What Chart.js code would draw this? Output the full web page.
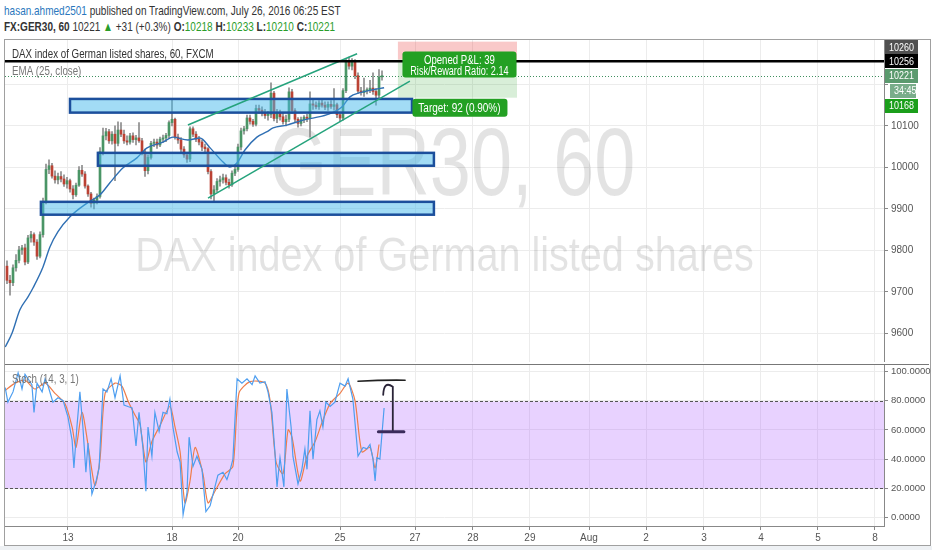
<!DOCTYPE html>
<html>
<head>
<meta charset="utf-8">
<script src="https://cdn.jsdelivr.net/npm/chart.js@4.4.0/dist/chart.umd.min.js"></script>
<style>
  body { margin: 0; background: #fff; width: 932px; height: 550px; overflow: hidden; position: relative;
         font-family: "Liberation Sans", Arial, sans-serif; }
  .hdr { position: absolute; left: 4px; white-space: nowrap; font-size: 13px; color: #333;
         transform: scaleX(0.77); transform-origin: 0 0; line-height: 15px; }
  #hdr1 { top: 3px; }
  #hdr2 { top: 19px; }
  .g { color: #2a9d2a; }
  .u { color: #2a77bd; }
  #frame { position: absolute; left: 4px; top: 39px; width: 925px; height: 505px; border: 1px solid #a0a0a0; }
  #mainC { position: absolute; left: 0; top: 40px; }
  #stochC { position: absolute; left: 0; top: 364px; }
  #foot { position: absolute; left: 0; top: 546px; width: 932px; height: 4px; background: #eef1f4; }
</style>
</head>
<body>
<div id="hdr1" class="hdr"><span class="u">hasan.ahmed2501</span> published on TradingView.com, July 26, 2016 06:25 EST</div>
<div id="hdr2" class="hdr"><b>FX:GER30, 60</b> 10221 <span class="g">▲</span> +31 (+0.3%) <b>O:</b><span class="g">10218</span> <b>H:</b><span class="g">10233</span> <b>L:</b><span class="g">10210</span> <b>C:</b><span class="g">10221</span></div>
<div id="frame"></div>
<canvas id="mainC" width="932" height="322"></canvas>
<canvas id="stochC" width="932" height="186"></canvas>
<div id="foot"></div>
<script>
// hourly candles, one row per bar: [open, high, low, close]
const candles = [
  [9762, 9775, 9720, 9728], [9728, 9740, 9692, 9722], [9722, 9765, 9715, 9758], [9758, 9790, 9750, 9776],
  [9776, 9810, 9770, 9801], [9801, 9812, 9790, 9806], [9806, 9815, 9765, 9772], [9772, 9836, 9768, 9830],
  [9830, 9846, 9820, 9838], [9838, 9842, 9812, 9820], [9820, 9826, 9778, 9786], [9786, 9845, 9782, 9838],
  [9838, 9926, 9832, 9918], [9918, 10008, 9912, 9995], [9995, 10018, 9985, 10004], [10004, 10010, 9974, 9979],
  [9979, 9992, 9962, 9970], [9970, 9986, 9960, 9978], [9978, 9990, 9965, 9972], [9972, 9982, 9954, 9960],
  [9960, 9976, 9950, 9968], [9968, 9972, 9940, 9948], [9948, 9956, 9924, 9934], [9934, 9962, 9930, 9957],
  [9957, 10002, 9954, 9993], [9993, 10005, 9978, 9984], [9984, 9990, 9950, 9955], [9955, 9958, 9930, 9936],
  [9936, 9940, 9904, 9913], [9913, 9926, 9900, 9921], [9921, 9936, 9912, 9930], [9930, 10048, 9926, 10038],
  [10038, 10095, 10030, 10076], [10076, 10094, 10066, 10086], [10086, 10092, 10058, 10064], [10064, 10086, 10056, 10080],
  [10080, 10100, 9968, 10058], [10058, 10110, 10052, 10090], [10090, 10108, 10074, 10080], [10080, 10090, 10058, 10064],
  [10064, 10076, 10054, 10061], [10061, 10082, 10056, 10076], [10076, 10083, 10060, 10067], [10067, 10077, 10054, 10071],
  [10071, 10108, 10060, 10064], [10064, 10070, 10030, 10037], [10037, 10044, 9978, 9992], [9992, 10030, 9984, 10024],
  [10024, 10063, 10020, 10058], [10058, 10068, 10050, 10061], [10061, 10068, 10046, 10054], [10054, 10073, 10050, 10068],
  [10068, 10078, 10060, 10071], [10071, 10082, 10062, 10077], [10077, 10112, 10070, 10108], [10108, 10163, 10100, 10116],
  [10116, 10119, 10068, 10073], [10073, 10080, 10058, 10066], [10066, 10072, 10038, 10044], [10044, 10050, 10024, 10030],
  [10030, 10036, 10012, 10020], [10020, 10098, 10014, 10093], [10093, 10098, 10074, 10080], [10080, 10086, 10062, 10068],
  [10068, 10075, 10054, 10061], [10061, 10066, 10040, 10049], [10049, 10056, 10038, 10045], [10045, 10048, 9984, 9990],
  [9990, 9995, 9924, 9936], [9936, 9956, 9918, 9946], [9946, 9973, 9940, 9966], [9966, 9979, 9955, 9970],
  [9970, 9984, 9962, 9975], [9975, 9982, 9958, 9964], [9964, 9972, 9950, 9958], [9958, 9992, 9954, 9986],
  [9986, 10001, 9980, 9995], [9995, 10056, 9990, 10049], [10049, 10095, 10042, 10088], [10088, 10099, 10080, 10093],
  [10093, 10126, 10088, 10119], [10119, 10126, 10104, 10111], [10111, 10116, 10099, 10104], [10104, 10150, 10100, 10142],
  [10142, 10150, 10130, 10138], [10138, 10146, 10124, 10131], [10131, 10140, 10118, 10125], [10125, 10135, 10114, 10128],
  [10128, 10204, 10120, 10179], [10179, 10183, 10112, 10118], [10118, 10140, 10108, 10131], [10131, 10138, 10114, 10122],
  [10122, 10131, 10104, 10110], [10110, 10126, 10100, 10116], [10116, 10192, 10110, 10182], [10182, 10188, 10130, 10137],
  [10137, 10142, 10110, 10116], [10116, 10120, 10097, 10106], [10106, 10121, 10100, 10115], [10115, 10125, 10108, 10121],
  [10121, 10128, 10110, 10118], [10118, 10182, 10073, 10153], [10153, 10162, 10140, 10150], [10150, 10158, 10141, 10146],
  [10146, 10161, 10140, 10155], [10155, 10163, 10145, 10150], [10150, 10158, 10139, 10145], [10145, 10158, 10137, 10152],
  [10152, 10161, 10142, 10147], [10147, 10190, 10138, 10151], [10151, 10155, 10120, 10127], [10127, 10134, 10110, 10119],
  [10119, 10190, 10114, 10185], [10185, 10262, 10180, 10255], [10255, 10266, 10237, 10244], [10244, 10262, 10235, 10255],
  [10255, 10260, 10214, 10221], [10221, 10228, 10178, 10184], [10184, 10193, 10174, 10180], [10180, 10215, 10171, 10185],
  [10185, 10192, 10177, 10187], [10187, 10210, 10180, 10191], [10191, 10228, 10176, 10183], [10183, 10190, 10150, 10174],
  [10174, 10236, 10168, 10218], [10218, 10233, 10210, 10221]
];

// EMA(25), at bar positions
const emaX = [-0.6, 1.7, 4.3, 7, 8.7, 12, 14.3, 17, 21, 26.7, 31, 34.3, 38.7, 43.3, 46.7, 52, 55.3, 60.3, 64.3,
              67.7, 72, 74.3, 76.7, 79.3, 83.3, 86.7, 88.7, 93.3, 98.7, 106.7, 111.7, 114.3, 117.7, 122, 125.7];
const emaY = [9567, 9601, 9657, 9688, 9710, 9760, 9808, 9845, 9881, 9914, 9934, 9963, 9999, 10023, 10047, 10061, 10073, 10066, 10071,
              10047, 10013, 10001, 10011, 10042, 10073, 10086, 10095, 10102, 10114, 10127, 10146, 10170, 10180, 10187, 10192];

// Stoch %K and %D
const kX = [-0.6, 0.3, 2, 3.7, 5, 6, 7, 8.3, 9, 10, 11.7, 12.7, 13.7, 15.3, 17, 18.7, 20.3, 21.7, 22.3, 23.3, 24.3, 25.3,
            26.3, 27, 28.3, 29.7, 30.7, 32, 33.3, 34.7, 36, 37.7, 39, 40.3, 41.7, 43, 44, 45.3, 46.3, 47, 48.3, 49.3,
            50.7, 52, 53.3, 54.3, 55.3, 56.7, 57.7, 58.7, 60, 60.7, 62, 63.3, 65, 66.3, 67.7, 69.3, 70.3, 72, 73.3,
            74.3, 75.3, 76.7, 78.3, 80, 81.7, 82.7, 84.3, 86, 87, 88.3, 89.3, 90, 91, 92.3, 93.3, 94.7, 95.3, 97,
            98.3, 99.3, 100, 101, 102, 103.3, 104.3, 105.3, 106.3, 107.7, 109.3, 111, 112.7, 113.7, 115.3, 117,
            118.7, 120, 121, 122, 122.7, 123.3, 124.3, 125.7];
const kY = [89, 79, 86, 99, 88, 98, 95, 91, 72, 92, 86, 95, 90, 79, 82, 80, 69, 53, 34, 62, 86, 62,
            31, 51, 16, 25, 34, 88, 86, 95, 82, 97, 77, 76, 75, 49, 72, 48, 18, 62, 42, 72,
            59, 72, 71, 81, 62, 45, 38, 2, 17, 55, 35, 42, 33, 4, 8, 21, 29, 31, 26,
            32, 40, 95, 92, 95, 91, 97, 92, 93, 86, 72, 45, 21, 41, 21, 88, 62, 42, 23,
            33, 47, 33, 73, 40, 67, 73, 62, 79, 76, 79, 92, 90, 95, 81, 42,
            48, 47, 50, 40, 25, 41, 40, 75];
const dX = [-0.6, 2.7, 6, 9.3, 12.7, 16, 19.3, 21.7, 23, 25, 27, 29.3, 31, 32.7, 36, 38.3, 40.3, 42.7, 44.3, 46.3,
            48.3, 51, 54.3, 56, 57.7, 59.3, 61, 62.7, 65.3, 67, 69.3, 72.7, 75.3, 77.3, 81, 86, 87.7, 89.7, 92,
            93.7, 95, 97.7, 100, 102.7, 105, 107.7, 111, 113.7, 116, 118.3, 121, 122.7, 124];
const dY = [87, 92, 94, 88, 92, 85, 78, 62, 48, 72, 50, 22, 40, 85, 92, 90, 80, 70, 64, 38,
            52, 63, 76, 62, 45, 10, 25, 48, 30, 10, 18, 30, 35, 85, 93, 92, 80, 38, 30,
            60, 55, 25, 42, 52, 65, 78, 85, 92, 80, 45, 48, 34, 50];

// time axis (bar positions of the day labels)
const dayTicks = [20.33, 55, 77, 111, 136, 155.3, 174.3, 194, 213, 232.3, 251.3, 270.3, 289.3];
const dayLabels = ['13', '18', '20', '25', '27', '28', '29', 'Aug', '2', '3', '4', '5', '8'];
const priceTicks = [9600, 9700, 9800, 9900, 10000, 10100, 10200];
const stochTicks = [0, 20, 40, 60, 80, 100];

// drawings: [fromBar, toBar, low, high] and [bar, price, bar, price]
const zones = [[21, 135, 10132, 10165], [30.3, 142.3, 10004, 10035], [11.3, 142.3, 9886, 9917]];
const channel = [[60.3, 10102, 116.7, 10274], [67, 9926, 134.3, 10208]];
const level = 10256;
const lastPrice = 10221;
const position = { from: 130.3, to: 170, entry: 10260, stop: 10303, target: 10168 };

const X_MIN = -0.667, X_MAX = 292.33;

function hasFont(name) {
  const c = document.createElement('canvas').getContext('2d');
  c.font = '40px monospace';
  const w = c.measureText('mmmmiiii1010').width;
  c.font = '40px "' + name + '", monospace';
  return c.measureText('mmmmiiii1010').width !== w;
}
const narrow = hasFont('Liberation Sans Narrow');
const tickFont = narrow ? { family: '"Liberation Sans Narrow"', size: 11 } : { family: '"Liberation Sans"', size: 10 };

function txt(ctx, s, x, y, size, color, align, sx, weight) {
  ctx.save();
  ctx.translate(x, y);
  ctx.scale(sx, 1);
  ctx.font = (weight || '') + ' ' + size + 'px "Liberation Sans"';
  ctx.fillStyle = color;
  ctx.textAlign = align;
  ctx.textBaseline = 'middle';
  ctx.fillText(s, 0, 0);
  ctx.restore();
}

function rrect(ctx, x, y, w, h, r) {
  ctx.beginPath();
  ctx.moveTo(x + r, y);
  ctx.arcTo(x + w, y, x + w, y + h, r);
  ctx.arcTo(x + w, y + h, x, y + h, r);
  ctx.arcTo(x, y + h, x, y, r);
  ctx.arcTo(x, y, x + w, y, r);
  ctx.closePath();
}

const upCol = '#4a9566', downCol = '#bb4234';
const bodyColors = candles.map(c => c[3] >= c[0] ? upCol : downCol);

const mainDraw = {
  id: 'mainDraw',
  beforeDatasetsDraw(chart) {
    const { ctx, chartArea: a, scales: { x, y } } = chart;
    ctx.save();
    ctx.beginPath(); ctx.rect(a.left, a.top, a.width, a.height); ctx.clip();
    const cx = (a.left + a.right) / 2, cy = (a.top + a.bottom) / 2;
    txt(ctx, 'GER30, 60', cx + 8, cy - 32, 96, 'rgba(0,0,0,0.11)', 'center', 0.77);
    txt(ctx, 'DAX index of German listed shares', cx, cy + 57, 48, 'rgba(0,0,0,0.11)', 'center', 0.825);
    const x0 = x.getPixelForValue(position.from), x1 = x.getPixelForValue(position.to);
    const yE = y.getPixelForValue(position.entry), yS = y.getPixelForValue(position.stop), yT = y.getPixelForValue(position.target);
    ctx.fillStyle = 'rgba(235,60,60,0.28)';
    ctx.fillRect(x0, yS, x1 - x0, yE - yS);
    ctx.fillStyle = 'rgba(40,160,40,0.18)';
    ctx.fillRect(x0, yE, x1 - x0, yT - yE);
    ctx.restore();
  },
  afterDatasetsDraw(chart) {
    const { ctx, chartArea: a, scales: { x, y } } = chart;
    const X = v => x.getPixelForValue(v), Y = v => y.getPixelForValue(v);
    ctx.save();
    ctx.beginPath(); ctx.rect(a.left, a.top, a.width, a.height); ctx.clip();
    zones.forEach(z => {
      const x0 = X(z[0]), x1 = X(z[1]), y0 = Y(z[3]), y1 = Y(z[2]);
      ctx.fillStyle = 'rgba(70,185,235,0.5)';
      ctx.fillRect(x0, y0, x1 - x0, y1 - y0);
      ctx.strokeStyle = '#1c4f9c'; ctx.lineWidth = 2.5;
      ctx.strokeRect(x0, y0, x1 - x0, y1 - y0);
    });
    ctx.strokeStyle = '#25a37c'; ctx.lineWidth = 1.5;
    channel.forEach(l => {
      ctx.beginPath(); ctx.moveTo(X(l[0]), Y(l[1])); ctx.lineTo(X(l[2]), Y(l[3])); ctx.stroke();
    });
    const yl = Math.round(Y(lastPrice)) + 0.5;
    ctx.setLineDash([1, 2]); ctx.strokeStyle = '#3f8f5f'; ctx.lineWidth = 1;
    ctx.beginPath(); ctx.moveTo(a.left, yl); ctx.lineTo(a.right, yl); ctx.stroke();
    ctx.setLineDash([]);
    ctx.strokeStyle = '#000'; ctx.lineWidth = 2.5;
    ctx.beginPath(); ctx.moveTo(a.left, Y(level)); ctx.lineTo(a.right, Y(level)); ctx.stroke();
    ctx.restore();

    // position labels
    const x0 = X(position.from), x1 = X(position.to), mid = (x0 + x1) / 2 + 2;
    const yE = Y(position.entry), yT = Y(position.target);
    ctx.fillStyle = '#23a023';
    rrect(ctx, mid - 57, yE - 8, 114, 26, 3); ctx.fill();
    txt(ctx, 'Opened P&L: 39', mid, yE + 1.5, 12, '#fff', 'center', 0.8);
    txt(ctx, 'Risk/Reward Ratio: 2.14', mid, yE + 12, 12, '#fff', 'center', 0.76);
    ctx.fillStyle = '#23a023';
    rrect(ctx, mid - 47, yT + 1, 95, 18, 3); ctx.fill();
    txt(ctx, 'Target: 92 (0.90%)', mid, yT + 10.5, 12.5, '#fff', 'center', 0.8);
  },
  afterDraw(chart) {
    const { ctx, chartArea: a, scales: { y } } = chart;
    const Y = v => y.getPixelForValue(v);
    const yLvl = Y(level), yLast = Y(lastPrice);
    const box = (s, yc, bg, x0, w) => {
      ctx.fillStyle = bg;
      ctx.fillRect(x0, Math.round(yc - 7), w, 14);
      txt(ctx, s, x0 + 4, yc + 0.5, 11.5, '#fff', 'left', 0.78);
    };
    box('10260', Math.min(Y(position.entry), yLvl - 14), '#505050', a.right + 1, 33);
    box('10256', yLvl, '#000', a.right + 1, 33);
    box('10221', yLast, '#5b9a6e', a.right + 1, 33);
    box('34:45', yLast + 15, '#79ad8a', a.right + 6, 26);
    box('10168', Math.max(Y(position.target), yLast + 30), '#1b9e1b', a.right + 1, 33);
    txt(ctx, 'DAX index of German listed shares, 60, FXCM', a.left + 7, a.top + 15, 12.5, '#333', 'left', 0.78);
    txt(ctx, 'EMA (25, close)', a.left + 7, a.top + 32, 12.5, '#777', 'left', 0.78);
  }
};

new Chart(document.getElementById('mainC'), {
  data: {
    datasets: [
      { type: 'line', data: emaX.map((v, i) => ({ x: v, y: emaY[i] })), borderColor: '#2f6fb3', borderWidth: 1.4,
        pointRadius: 0, cubicInterpolationMode: 'monotone', order: 0 },
      { type: 'bar', data: candles.map((c, i) => ({ x: i, y: [c[2], c[1]] })), backgroundColor: '#8c8c8c',
        barThickness: 1, grouped: false, order: 2 },
      { type: 'bar', data: candles.map((c, i) => ({ x: i, y: [c[0], c[3]] })), backgroundColor: bodyColors,
        barThickness: 2, grouped: false, minBarLength: 1, order: 1 }
    ]
  },
  options: {
    responsive: false, animation: false, devicePixelRatio: 1,
    layout: { padding: { left: 5, right: 0, top: 0, bottom: 0 } },
    plugins: { legend: { display: false }, tooltip: { enabled: false } },
    scales: {
      x: {
        type: 'linear', min: X_MIN, max: X_MAX, offset: false,
        afterBuildTicks: s => { s.ticks = dayTicks.map(v => ({ value: v })); },
        ticks: { display: false, autoSkip: false },
        grid: { color: '#ececec', drawTicks: false, offset: false },
        border: { display: false },
        afterFit: s => { s.height = 0; s.paddingLeft = 0; s.paddingRight = 0; }
      },
      y: {
        type: 'linear', position: 'right', min: 9531, max: 10307,
        afterBuildTicks: s => { s.ticks = priceTicks.map(v => ({ value: v })); },
        ticks: { color: '#555', font: tickFont, padding: 3, callback: v => v === 10200 ? '' : String(v) },
        grid: { color: '#ececec', tickLength: 4, tickColor: '#888' },
        border: { color: '#888' },
        afterFit: s => { s.width = 48; s.paddingTop = 0; s.paddingBottom = 0; }
      }
    }
  },
  plugins: [mainDraw]
});

const stochDraw = {
  id: 'stochDraw',
  beforeDatasetsDraw(chart) {
    const { ctx, chartArea: a, scales: { y } } = chart;
    const y80 = Math.round(y.getPixelForValue(80)) + 0.5, y20 = Math.round(y.getPixelForValue(20)) + 0.5;
    ctx.save();
    ctx.fillStyle = 'rgba(170,90,255,0.27)';
    ctx.fillRect(a.left, y80, a.width, y20 - y80);
    ctx.strokeStyle = '#555'; ctx.lineWidth = 1; ctx.setLineDash([3, 2]);
    [y80, y20].forEach(v => { ctx.beginPath(); ctx.moveTo(a.left, v); ctx.lineTo(a.right, v); ctx.stroke(); });
    ctx.restore();
  },
  afterDatasetsDraw(chart) {
    const { ctx, scales: { x, y } } = chart;
    const X = v => x.getPixelForValue(v), Y = v => y.getPixelForValue(v);
    ctx.save();
    ctx.lineCap = 'round';
    ctx.strokeStyle = '#222'; ctx.lineWidth = 1.6;
    ctx.beginPath(); ctx.moveTo(X(117), Y(93.3)); ctx.quadraticCurveTo(X(125), Y(94.2), X(132.7), Y(94)); ctx.stroke();
    ctx.strokeStyle = '#2a2438'; ctx.lineWidth = 1.8;
    ctx.beginPath(); ctx.moveTo(X(125.4), Y(84)); ctx.quadraticCurveTo(X(125.6), Y(94), X(128.6), Y(89.5));
    ctx.lineTo(X(128.6), Y(58.8)); ctx.stroke();
    ctx.strokeStyle = '#3b2b5b'; ctx.lineWidth = 3;
    ctx.beginPath(); ctx.moveTo(X(123.8), Y(58.8)); ctx.lineTo(X(132.3), Y(58.8)); ctx.stroke();
    ctx.restore();
  },
  afterDraw(chart) {
    const { ctx, chartArea: a } = chart;
    ctx.save();
    ctx.strokeStyle = '#777'; ctx.lineWidth = 1;
    ctx.beginPath(); ctx.moveTo(a.left, 0.5); ctx.lineTo(chart.width - 3, 0.5); ctx.stroke();
    ctx.restore();
    txt(ctx, 'Stoch (14, 3, 1)', a.left + 7, a.top + 16, 12.5, '#777', 'left', 0.78);
  }
};

new Chart(document.getElementById('stochC'), {
  type: 'line',
  data: {
    datasets: [
      { data: kX.map((v, i) => ({ x: v, y: kY[i] })), borderColor: '#4d9ef0', borderWidth: 1.2, pointRadius: 0, tension: 0 },
      { data: dX.map((v, i) => ({ x: v, y: dY[i] })), borderColor: '#ef7d4a', borderWidth: 1.2, pointRadius: 0, tension: 0.25 }
    ]
  },
  options: {
    responsive: false, animation: false, devicePixelRatio: 1,
    layout: { padding: { left: 5, right: 0, top: 0, bottom: 0 } },
    plugins: { legend: { display: false }, tooltip: { enabled: false } },
    scales: {
      x: {
        type: 'linear', min: X_MIN, max: X_MAX, offset: false,
        afterBuildTicks: s => { s.ticks = dayTicks.map(v => ({ value: v })); },
        ticks: { autoSkip: false, maxRotation: 0, color: '#555', font: tickFont, padding: 2,
                 callback: v => dayLabels[dayTicks.indexOf(v)] },
        grid: { color: '#ececec', tickLength: 4, tickColor: '#888' },
        border: { color: '#888' },
        afterFit: s => { s.height = 24; s.paddingLeft = 0; s.paddingRight = 0; }
      },
      y: {
        type: 'linear', position: 'right', min: -5.8, max: 105.1,
        afterBuildTicks: s => { s.ticks = stochTicks.map(v => ({ value: v })); },
        ticks: { color: '#555', font: { family: tickFont.family, size: tickFont.size - 0.5 }, padding: 3,
                 callback: v => v.toFixed(4) },
        grid: { color: '#ececec', tickLength: 4, tickColor: '#888' },
        border: { color: '#888' },
        afterFit: s => { s.width = 48; s.paddingTop = 0; s.paddingBottom = 0; }
      }
    }
  },
  plugins: [stochDraw]
});
</script>
</body>
</html>
